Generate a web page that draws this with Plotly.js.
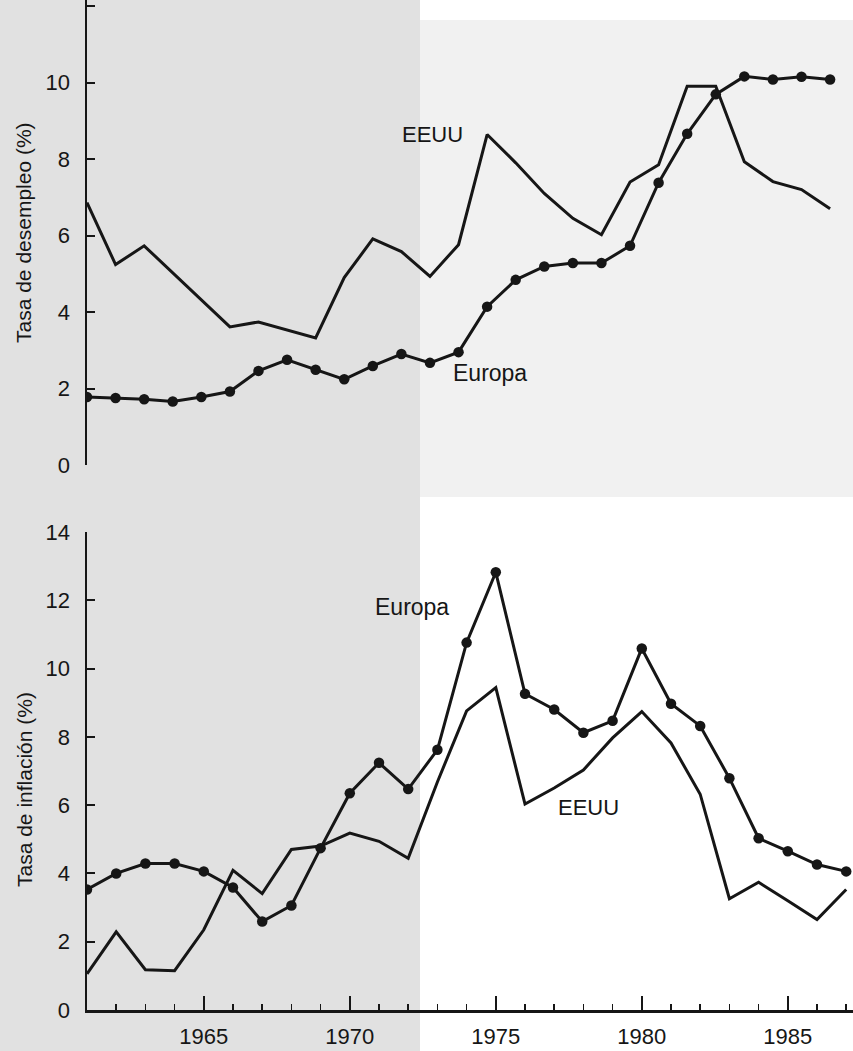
<!DOCTYPE html>
<html>
<head>
<meta charset="utf-8">
<script src="https://cdn.plot.ly/plotly-3.0.1.min.js"></script>
<style>html,body{margin:0;padding:0;background:#fff;}#chart{width:853px;height:1051px;}</style>
</head>
<body>
<div id="chart"></div>
<script>
// Years (shared by both panels)
const years = [1961,1962,1963,1964,1965,1966,1967,1968,1969,1970,1971,1972,1973,1974,1975,1976,1977,1978,1979,1980,1981,1982,1983,1984,1985,1986,1987];

// Top panel: unemployment rate (%)
const unempEuropa = [1.78,1.75,1.72,1.66,1.78,1.92,2.46,2.75,2.49,2.24,2.59,2.90,2.67,2.95,4.14,4.84,5.19,5.28,5.28,5.73,7.38,8.66,9.69,10.16,10.08,10.15,10.08];
const unempEEUU   = [6.86,5.24,5.73,5.02,4.32,3.61,3.74,3.53,3.32,4.90,5.91,5.58,4.93,5.76,8.64,7.90,7.10,6.45,6.02,7.40,7.85,9.90,9.90,7.93,7.41,7.20,6.70];

// Bottom panel: inflation rate (%)
const inflEuropa = [3.53,4.00,4.29,4.29,4.06,3.59,2.59,3.06,4.74,6.35,7.24,6.47,7.62,10.76,12.82,9.26,8.80,8.12,8.47,10.59,8.97,8.32,6.79,5.03,4.65,4.26,4.06];
const inflEEUU   = [1.06,2.29,1.18,1.15,2.35,4.09,3.41,4.70,4.80,5.18,4.94,4.44,6.68,8.76,9.44,6.03,6.50,7.03,7.97,8.74,7.82,6.32,3.26,3.74,3.20,2.65,3.53];

// Axis texts and series labels
const yTitleTop = "Tasa de desempleo (%)";
const yTitleBottom = "Tasa de inflación (%)";
const labelEuropa = "Europa";
const labelEEUU = "EEUU";
const xTickVals = [1965,1970,1975,1980,1985];
const yTickTop = [0,2,4,6,8,10,12];
const yTickBottom = [0,2,4,6,8,10,12,14];

const FONT = "Liberation Sans, Arial, Helvetica, sans-serif";
const INK = "#161616";

const lineStyle = {color: INK, width: 3};
const markerStyle = {color: INK, size: 10.5};

const traces = [
  {x: years, y: unempEEUU, xaxis: "x2", yaxis: "y2", mode: "lines", line: lineStyle, name: labelEEUU},
  {x: years, y: unempEuropa, xaxis: "x2", yaxis: "y2", mode: "lines+markers", line: lineStyle, marker: markerStyle, name: labelEuropa},
  {x: years, y: inflEEUU, xaxis: "x", yaxis: "y", mode: "lines", line: lineStyle, name: labelEEUU},
  {x: years, y: inflEuropa, xaxis: "x", yaxis: "y", mode: "lines+markers", line: lineStyle, marker: markerStyle, name: labelEuropa}
];

const W = 853, H = 1051, L = 87, B = 41;
const plotW = W - L, plotH = H - B;
const px2x = p => (p - L) / plotW;
const py2y = p => (plotH - p) / plotH;

const layout = {
  width: W, height: H,
  margin: {l: L, r: 0, t: 0, b: B},
  paper_bgcolor: "#ffffff",
  plot_bgcolor: "rgba(0,0,0,0)",
  showlegend: false,
  font: {family: FONT, color: INK, size: 22},
  xaxis: {
    domain: [0, 1], anchor: "y",
    range: [1961, 1961 + plotW / 29.2],
    showgrid: false, zeroline: false,
    showline: true, linecolor: INK, linewidth: 2.5,
    tickmode: "array", tickvals: xTickVals,
    ticks: "inside", ticklen: 14, tickwidth: 2, tickcolor: INK,
    minor: {dtick: 1, tick0: 1961, ticks: "inside", ticklen: 6, tickwidth: 1.5, tickcolor: INK, showgrid: false},
    ticklabelstandoff: 5,
    tickfont: {family: FONT, size: 22, color: INK}
  },
  yaxis: {
    domain: [0, py2y(532)], anchor: "x",
    range: [0, 14],
    showgrid: false, zeroline: false,
    showline: true, linecolor: INK, linewidth: 2.5,
    tickmode: "array", tickvals: yTickBottom,
    ticks: "inside", ticklen: 8, tickwidth: 2, tickcolor: INK,
    ticklabelstandoff: 10,
    tickfont: {family: FONT, size: 22, color: INK}
  },
  xaxis2: {
    domain: [0, 1], anchor: "y2",
    range: [1961, 1961 + plotW / 28.58],
    visible: false
  },
  yaxis2: {
    domain: [py2y(465), 1], anchor: "x2",
    range: [0, 465 / 38.25],
    showgrid: false, zeroline: false,
    showline: true, linecolor: INK, linewidth: 2.5,
    tickmode: "array", tickvals: yTickTop,
    ticks: "inside", ticklen: 8, tickwidth: 2, tickcolor: INK,
    ticklabelstandoff: 10,
    tickfont: {family: FONT, size: 22, color: INK}
  },
  shapes: [
    {type: "rect", xref: "paper", yref: "paper", layer: "below",
     x0: px2x(-5), x1: px2x(420), y0: py2y(H + 5), y1: py2y(-5),
     fillcolor: "#e1e1e1", line: {width: 0}},
    {type: "rect", xref: "paper", yref: "paper", layer: "below",
     x0: px2x(420), x1: px2x(W + 5), y0: py2y(497), y1: py2y(20),
     fillcolor: "#f1f1f1", line: {width: 0}}
  ],
  annotations: [
    {text: yTitleTop, xref: "paper", yref: "paper", x: px2x(24), y: py2y(233),
     textangle: -90, showarrow: false, xanchor: "center", yanchor: "middle",
     font: {family: FONT, size: 21, color: INK}},
    {text: yTitleBottom, xref: "paper", yref: "paper", x: px2x(24), y: py2y(790),
     textangle: -90, showarrow: false, xanchor: "center", yanchor: "middle",
     font: {family: FONT, size: 21, color: INK}},
    {text: labelEEUU, xref: "x2", yref: "y2", x: 1973.1, y: 8.63, showarrow: false,
     font: {family: FONT, size: 22, color: INK}},
    {text: labelEuropa, xref: "x2", yref: "y2", x: 1975.1, y: 2.41, showarrow: false,
     font: {family: FONT, size: 23, color: INK}},
    {text: labelEuropa, xref: "x", yref: "y", x: 1972.13, y: 11.8, showarrow: false,
     font: {family: FONT, size: 23, color: INK}},
    {text: labelEEUU, xref: "x", yref: "y", x: 1978.19, y: 5.92, showarrow: false,
     font: {family: FONT, size: 22, color: INK}}
  ]
};

Plotly.newPlot("chart", traces, layout, {displayModeBar: false, staticPlot: true});
</script>
</body>
</html>
